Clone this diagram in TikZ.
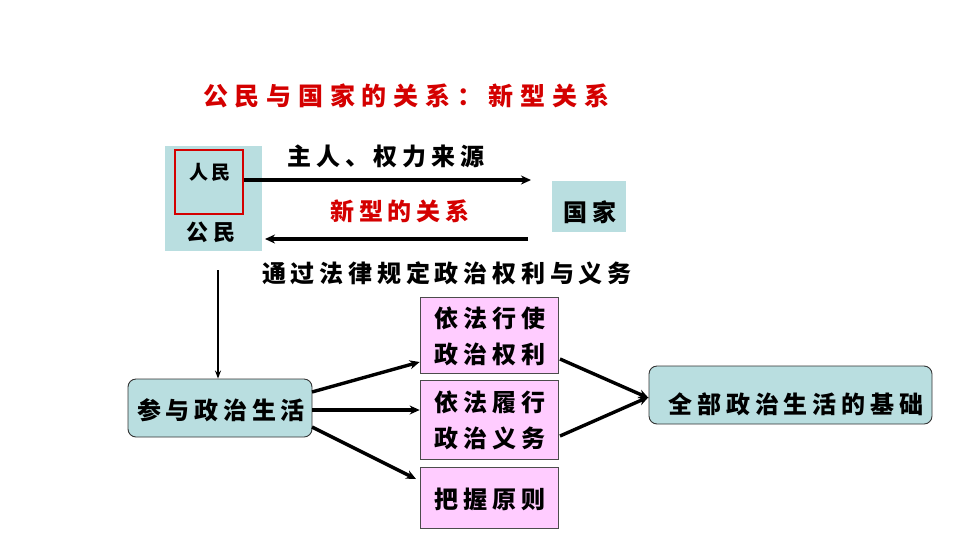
\documentclass[tikz,border=0pt]{standalone}
\usepackage{fontspec}
\setmainfont{Noto Sans CJK SC}
\usetikzlibrary{arrows.meta}
\definecolor{lblue}{HTML}{B9DEE0}
\definecolor{lpink}{HTML}{FFCCFF}
\definecolor{tred}{HTML}{D40000}
\tikzset{
  txt/.style={inner sep=0pt, font=\fontsize{24}{27}\selectfont\bfseries\addfontfeature{LetterSpace=20}},
  bluebox/.style={fill=lblue, draw=none, inner sep=0pt},
  rbox/.style={fill=lblue, draw=black!80, line width=0.9pt, rounded corners=8pt, inner sep=0pt},
  pinkbox/.style={fill=lpink, draw=black!70, line width=0.7pt, inner sep=0pt, minimum width=138pt, align=center},
  arr/.style={line width=3.4pt, -{Stealth[length=10pt,width=9pt]}},
  thinarr/.style={line width=2pt, -{Stealth[length=8pt,width=6pt]}}
}
\begin{document}
\begin{tikzpicture}[x=1pt,y=-1pt]
\useasboundingbox[fill=white] (0,0) rectangle (960,539);
% title
\node[txt, text=tred, font=\fontsize{25}{28}\selectfont\bfseries\addfontfeature{LetterSpace=27}] (title) at (406,96) {公民与国家的关系：新型关系};
% left blue box
\node[bluebox, minimum width=97pt, minimum height=105pt] (gm) at (213.5,198.5) {};
\node[draw=tred, line width=1.4pt, minimum width=68pt, minimum height=64pt, inner sep=0pt] (rm) at (209,182) {};
\node[txt, font=\fontsize{19}{21}\selectfont\bfseries\addfontfeature{LetterSpace=16}] (rmt) at (210,172) {人民};
\node[txt, font=\fontsize{22}{24}\selectfont\bfseries\addfontfeature{LetterSpace=22}] (gmt) at (211,232) {公民};
% guojia
\node[bluebox, minimum width=74pt, minimum height=51pt] (gj) at (589,206.5) {};
\node[txt] (gjt) at (590,212) {国家};
% texts
\node[txt] (l1) at (386,156) {主人、权力来源};
\node[txt, text=tred] (l2) at (400,211) {新型的关系};
\node[txt] (l3) at (447,273) {通过法律规定政治权利与义务};
% arrows top
\coordinate (a1e) at (531,180);
\coordinate (a2s) at (528,239);
\coordinate (a2e) at (265,239);
\draw[arr] (rm.east |- 0,180) -- (a1e);
\draw[arr] (a2s) -- (a2e);
% lower boxes
\node[rbox, minimum width=184pt, minimum height=58pt] (cy) at (220,408) {};
\node[txt] (cyt) at (221,410) {参与政治生活};
\coordinate (vtop) at (218,270);
\draw[thinarr] (vtop) -- (cy.north -| vtop);
\node[pinkbox, minimum height=76pt] (p1) at (489,335) {};
\node[txt, align=center, font=\fontsize{24}{36}\selectfont\bfseries\addfontfeature{LetterSpace=20}] (p1t) at (490,336) {依法行使\\政治权利};
\node[pinkbox, minimum height=79pt] (p2) at (489,419.5) {};
\node[txt, align=center, font=\fontsize{24}{36}\selectfont\bfseries\addfontfeature{LetterSpace=20}] (p2t) at (490,420) {依法履行\\政治义务};
\node[pinkbox, minimum height=61pt] (p3) at (489,497.5) {};
\node[txt] (p3t) at (490,499) {把握原则};
\node[rbox, minimum width=283pt, minimum height=58pt] (qb) at (790.5,395) {};
\node[txt] (qbt) at (796,404) {全部政治生活的基础};
% connectors
\draw[arr] (312,392) -- (p1.west |- 0,362);
\draw[arr] (312,410) -- (p2.west |- 0,410);
\draw[arr] (312,427) -- (416,479);
\draw[arr] (560,359) -- (qb.west |- 0,398);
\draw[arr] (560,436) -- (qb.west |- 0,397);
\end{tikzpicture}
\end{document}
